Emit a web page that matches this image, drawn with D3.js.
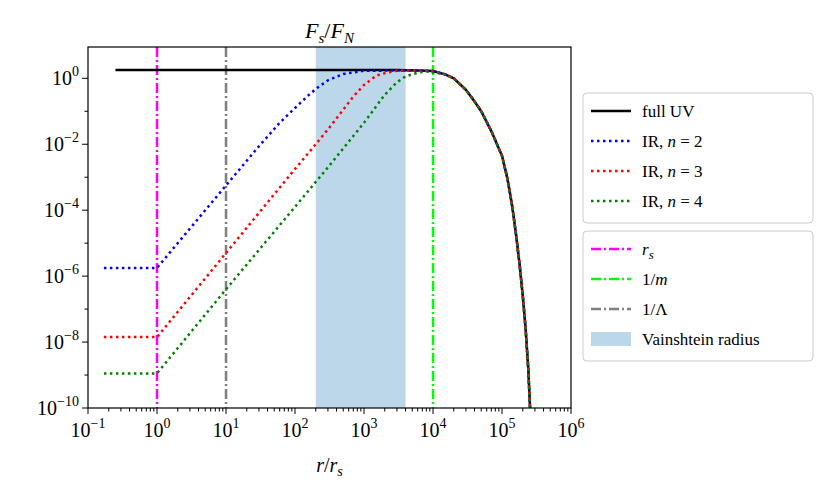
<!DOCTYPE html>
<html><head><meta charset="utf-8">
<script src="https://cdn.jsdelivr.net/npm/d3@7"></script>
<style>body{margin:0;background:#fff}svg text{font-family:"Liberation Serif","DejaVu Serif",serif}</style>
</head><body><svg id="c" width="830" height="500"></svg>
<script>
// log10 values of F_s/F_N
const falloff = [[1e4, 0.22], [1.5e4, 0.12], [2e4, 0.0], [3e4, -0.35], [4e4, -0.7], [5e4, -1.0], [7e4, -1.6], [1e5, -2.35], [1.2e5, -3.05], [1.4e5, -3.85], [1.6e5, -4.75], [1.8e5, -5.65], [2e5, -6.6], [2.2e5, -7.6], [2.4e5, -8.8], [2.55e5, -10]];
const fullUV = [[0.25, 0.25], [3e3, 0.25], [6e3, 0.24]].concat(falloff);
const ir2 = [[0.17, -5.75], [1, -5.75], [10, -3.25], [30, -2.06], [60, -1.35], [100, -0.9], [150, -0.55], [200, -0.32], [300, -0.06], [500, 0.13], [1000, 0.23], [6e3, 0.24]].concat(falloff);
const ir3 = [[0.17, -7.85], [1, -7.85], [10, -5.3], [100, -2.75], [200, -2.0], [300, -1.55], [500, -0.95], [700, -0.55], [1000, -0.2], [1500, 0.08], [2200, 0.18], [3000, 0.23], [6e3, 0.24]].concat(falloff);
const ir4 = [[0.17, -8.95], [1, -8.95], [10, -6.4], [100, -3.9], [300, -2.7], [700, -1.75], [1000, -1.35], [1500, -0.85], [2000, -0.5], [3000, -0.12], [4000, 0.06], [6000, 0.17], [8000, 0.21]].concat(falloff.slice(1));
const vlines = [{x: 1, color: "#ff00ff"}, {x: 10, color: "#808080"}, {x: 1e4, color: "#00ff00"}];
const vainshtein = [200, 4000];
const xTicks = [-1, 0, 1, 2, 3, 4, 5, 6];
const yTicks = [0, -2, -4, -6, -8, -10];

const svg = d3.select("#c");
const L = 88, R = 571, T = 47, B = 408;
const x = d3.scaleLog().domain([0.1, 1e6]).range([L, R]);
const y = d3.scaleLinear().domain([-10, 0.95]).range([B, T]);

svg.append("rect").attr("x", x(vainshtein[0])).attr("y", T).attr("width", x(vainshtein[1]) - x(vainshtein[0])).attr("height", B - T).attr("fill", "#bcd6ea");

const line = d3.line().x(d => x(d[0])).y(d => y(d[1]));
const g = svg.append("g").attr("clip-path", "url(#clip)");
svg.append("clipPath").attr("id", "clip").append("rect").attr("x", L).attr("y", T).attr("width", R - L).attr("height", B - T);
vlines.forEach(v => g.append("line").attr("x1", x(v.x)).attr("x2", x(v.x)).attr("y1", T).attr("y2", B)
  .attr("stroke", v.color).attr("stroke-width", 2.5).attr("stroke-dasharray", "10,3,2,3"));
g.append("path").attr("d", line(fullUV)).attr("fill", "none").attr("stroke", "#000").attr("stroke-width", 2.5);
[[ir2, "#0000ff"], [ir3, "#ff0000"], [ir4, "#008000"]].forEach(([d, c]) =>
  g.append("path").attr("d", line(d)).attr("fill", "none").attr("stroke", c).attr("stroke-width", 2.5).attr("stroke-dasharray", "2.5,3.5"));

svg.append("rect").attr("x", L).attr("y", T).attr("width", R - L).attr("height", B - T).attr("fill", "none").attr("stroke", "#000").attr("stroke-width", 1.2);

// ticks
xTicks.forEach(e => {
  svg.append("line").attr("x1", x(10 ** e)).attr("x2", x(10 ** e)).attr("y1", B).attr("y2", B + 6).attr("stroke", "#000");
  const t = svg.append("text").attr("x", x(10 ** e)).attr("y", B + 29).attr("text-anchor", "middle").attr("font-size", 20).text("10");
  t.append("tspan").attr("dy", -9).attr("font-size", 14).text(e < 0 ? "\u2212" + (-e) : e);
  if (e < 6) for (let k = 2; k < 10; k++)
    svg.append("line").attr("x1", x(k * 10 ** e)).attr("x2", x(k * 10 ** e)).attr("y1", B).attr("y2", B + 3.5).attr("stroke", "#000");
});
yTicks.forEach(e => {
  svg.append("line").attr("x1", L - 6).attr("x2", L).attr("y1", y(e)).attr("y2", y(e)).attr("stroke", "#000");
  const t = svg.append("text").attr("x", L - 9).attr("y", y(e) + 7).attr("text-anchor", "end").attr("font-size", 20).text("10");
  t.append("tspan").attr("dy", -9).attr("font-size", 14).text(e < 0 ? "\u2212" + (-e) : e);
});
for (let e = -10; e < 1; e++) if (e % 2) svg.append("line").attr("x1", L - 3.5).attr("x2", L).attr("y1", y(e)).attr("y2", y(e)).attr("stroke", "#000");

const xl = svg.append("text").attr("x", (L + R) / 2).attr("y", 472).attr("text-anchor", "middle").attr("font-size", 20).attr("font-style", "italic").text("r");
xl.append("tspan").attr("font-style", "normal").text("/");
xl.append("tspan").text("r");
xl.append("tspan").attr("font-size", 14).attr("dy", 4).text("s");
const ti = svg.append("text").attr("x", (L + R) / 2).attr("y", 38).attr("text-anchor", "middle").attr("font-size", 22).attr("font-style", "italic").text("F");
ti.append("tspan").attr("font-size", 15).attr("dy", 5).text("s");
ti.append("tspan").attr("dy", -5).attr("font-style", "normal").text("/");
ti.append("tspan").text("F");
ti.append("tspan").attr("font-size", 15).attr("dy", 5).text("N");

// legends
function legend(y0, h, items) {
  svg.append("rect").attr("x", 583).attr("y", y0).attr("width", 230).attr("height", h).attr("rx", 4).attr("fill", "#fff").attr("stroke", "#ccc");
  items.forEach((it, i) => {
    const yy = y0 + 18 + i * 30;
    if (it.patch) svg.append("rect").attr("x", 591).attr("y", yy - 7).attr("width", 40).attr("height", 14).attr("fill", it.color);
    else svg.append("line").attr("x1", 591).attr("x2", 631).attr("y1", yy).attr("y2", yy).attr("stroke", it.color).attr("stroke-width", 2.5).attr("stroke-dasharray", it.dash);
    const t = svg.append("text").attr("x", 642).attr("y", yy + 6).attr("font-size", 17);
    it.text(t);
  });
}
legend(93, 130, [
  {color: "#000", dash: null, text: t => t.text("full UV")},
  ...[[2, "#0000ff"], [3, "#ff0000"], [4, "#008000"]].map(([n, c]) => ({color: c, dash: "2.5,3.5", text: t => {
    t.text("IR, "); t.append("tspan").attr("font-style", "italic").text("n"); t.append("tspan").text(" = " + n);
  }}))
]);
legend(231, 130, [
  {color: "#ff00ff", dash: "10,3,2,3", text: t => { t.append("tspan").attr("font-style", "italic").text("r"); t.append("tspan").attr("font-size", 13).attr("dy", 4).attr("font-style", "italic").text("s"); }},
  {color: "#00ff00", dash: "10,3,2,3", text: t => { t.text("1/"); t.append("tspan").attr("font-style", "italic").text("m"); }},
  {color: "#808080", dash: "10,3,2,3", text: t => t.text("1/\u039B")},
  {color: "#bcd6ea", patch: true, text: t => t.text("Vainshtein radius")}
]);
</script></body></html>
